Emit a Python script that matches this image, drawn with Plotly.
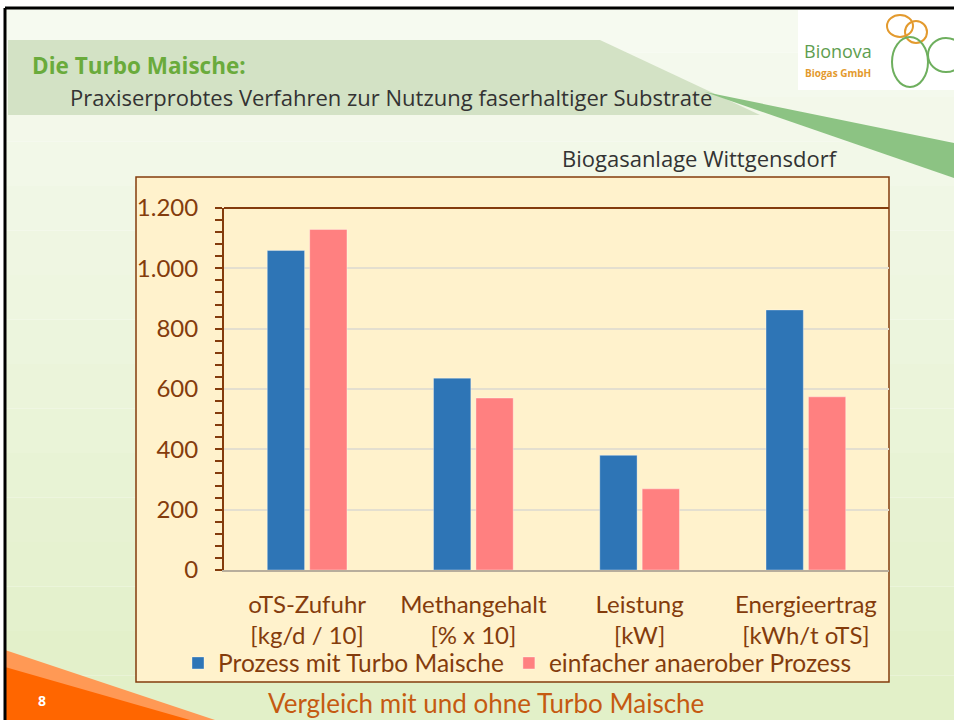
import plotly.graph_objects as go

W, H = 954, 720

categories = ["oTS-Zufuhr<br>[kg/d / 10]", "Methangehalt<br>[% x 10]",
              "Leistung<br>[kW]", "Energieertrag<br>[kWh/t oTS]"]
series_names = ["Prozess mit Turbo Maische", "einfacher anaerober Prozess"]
turbo_values = [1059, 636, 380, 862]
simple_values = [1129, 570, 269, 574]
y_tickvals = [0, 200, 400, 600, 800, 1000, 1200]

BROWN = "#843C0C"
FONT = "Lato"


def px(x):
    return x / W


def py(y):
    return 1 - y / H


fig = go.Figure()
fig.add_trace(go.Bar(x=categories, y=turbo_values, name=series_names[0],
                     marker=dict(color="#2E75B6", line=dict(color="rgba(255,255,255,0.35)", width=1))))
fig.add_trace(go.Bar(x=categories, y=simple_values, name=series_names[1],
                     marker=dict(color="#FF8080", line=dict(color="rgba(255,255,255,0.35)", width=1))))

shapes = []
# background gradient bands
top_c = (246, 250, 240)
bot_c = (226, 240, 200)
n = 16
for i in range(n):
    t = i / (n - 1)
    c = tuple(int(top_c[k] + (bot_c[k] - top_c[k]) * t) for k in range(3))
    y0 = 8 + (H - 8) * i / n
    y1 = 8 + (H - 8) * (i + 1) / n
    shapes.append(dict(type="rect", xref="paper", yref="paper", x0=px(5), x1=1,
                       y0=py(y1), y1=py(y0), fillcolor="rgb(%d,%d,%d)" % c,
                       line=dict(width=0), layer="below"))
# header band
shapes.append(dict(type="path", xref="paper", yref="paper",
                   path="M %f,%f L %f,%f L %f,%f L %f,%f Z" % (px(8), py(40), px(600), py(40), px(760), py(115), px(8), py(115)),
                   fillcolor="#D3E2C5", line=dict(width=0), layer="below"))
# dark green wedge
shapes.append(dict(type="path", xref="paper", yref="paper",
                   path="M %f,%f L %f,%f L %f,%f Z" % (px(705), py(92), px(954), py(143), px(954), py(178)),
                   fillcolor="#8CC383", line=dict(width=0), layer="below"))
# logo white box
shapes.append(dict(type="rect", xref="paper", yref="paper", x0=px(798), x1=1, y0=py(90), y1=py(10),
                   fillcolor="white", line=dict(width=0), layer="below"))
# logo rings
for cx, cy, rx, ry, col in [(900, 26, 13, 11, "#E39A2E"), (916, 32, 11, 11, "#E39A2E"),
                            (910, 62, 18, 25, "#6EAF5E"), (946, 55, 18, 17, "#6EAF5E")]:
    shapes.append(dict(type="circle", xref="paper", yref="paper", x0=px(cx - rx), x1=px(cx + rx),
                       y0=py(cy + ry), y1=py(cy - ry), line=dict(color=col, width=2),
                       fillcolor="rgba(0,0,0,0)", layer="below"))
# orange corner
shapes.append(dict(type="path", xref="paper", yref="paper",
                   path="M %f,%f L %f,%f L %f,%f Z" % (px(5), py(650), px(215), py(720), px(5), py(720)),
                   fillcolor="#FF9955", line=dict(width=0), layer="below"))
shapes.append(dict(type="path", xref="paper", yref="paper",
                   path="M %f,%f L %f,%f L %f,%f Z" % (px(5), py(667), px(190), py(720), px(5), py(720)),
                   fillcolor="#FF6600", line=dict(width=0), layer="below"))
# black slide border
shapes.append(dict(type="line", xref="paper", yref="paper", x0=px(5), x1=1, y0=py(8), y1=py(8),
                   line=dict(color="black", width=3), layer="below"))
shapes.append(dict(type="line", xref="paper", yref="paper", x0=px(5), x1=px(5), y0=0, y1=py(8),
                   line=dict(color="black", width=3), layer="below"))
# chart frame
shapes.append(dict(type="rect", xref="paper", yref="paper", x0=px(136), x1=px(889), y0=py(682), y1=py(177),
                   fillcolor="#FFF2CC", line=dict(color=BROWN, width=1.5), layer="below"))
# plot top border
shapes.append(dict(type="line", xref="x domain", yref="y domain", x0=0, x1=1, y0=1, y1=1,
                   line=dict(color=BROWN, width=2)))

annotations = [
    dict(text="<b>Die Turbo Maische:</b>", x=px(30), y=py(65), xref="paper", yref="paper",
         xanchor="left", yanchor="middle", showarrow=False,
         font=dict(family="Open Sans", size=22.5, color="#6AAB3C")),
    dict(text="Praxiserprobtes Verfahren zur Nutzung faserhaltiger Substrate", x=px(68), y=py(97),
         xref="paper", yref="paper", xanchor="left", yanchor="middle", showarrow=False,
         font=dict(family="Open Sans", size=22, color="#333333")),
    dict(text="Biogasanlage Wittgensdorf", x=px(840), y=py(158), xref="paper", yref="paper",
         xanchor="right", yanchor="middle", showarrow=False,
         font=dict(family="Open Sans", size=22, color="#333333")),
    dict(text="Vergleich mit und ohne Turbo Maische", x=px(486), y=py(703), xref="paper", yref="paper",
         xanchor="center", yanchor="middle", showarrow=False,
         font=dict(family=FONT, size=26, color="#C55A11")),
    dict(text="<b>8</b>", x=px(42), y=py(700), xref="paper", yref="paper",
         xanchor="center", yanchor="middle", showarrow=False,
         font=dict(family="Open Sans", size=14, color="white")),
    dict(text="Bionova", x=px(838), y=py(51), xref="paper", yref="paper",
         xanchor="center", yanchor="middle", showarrow=False,
         font=dict(family="Open Sans", size=18, color="#5E9E50")),
    dict(text="<b>Biogas GmbH</b>", x=px(838), y=py(73), xref="paper", yref="paper",
         xanchor="center", yanchor="middle", showarrow=False,
         font=dict(family="Open Sans", size=10, color="#E39A2E")),
]

fig.update_layout(
    width=W, height=H,
    margin=dict(l=0, r=0, t=0, b=0, autoexpand=False),
    paper_bgcolor="white",
    plot_bgcolor="rgba(0,0,0,0)",
    separators=",.",
    barmode="group",
    bargap=0.49,
    bargroupgap=0.12,
    shapes=shapes,
    annotations=annotations,
    showlegend=True,
    legend=dict(orientation="h", x=px(178), y=py(663), xanchor="left", yanchor="middle",
                font=dict(family=FONT, size=24.5, color=BROWN), bgcolor="rgba(0,0,0,0)",
                itemclick=False, tracegroupgap=0),
    xaxis=dict(domain=[px(224), px(889)], showline=True, linecolor="#B8AE9C", linewidth=2,
               ticks="", ticklabelstandoff=12, automargin=False,
               tickfont=dict(family=FONT, size=24, color=BROWN), showgrid=False),
    yaxis=dict(domain=[py(570), py(208)], range=[0, 1200], tickvals=y_tickvals,
               separatethousands=True, tickformat=",d", automargin=False,
               showline=True, linecolor=BROWN, linewidth=2,
               ticks="outside", ticklen=7, tickwidth=2, tickcolor=BROWN,
               ticklabelstandoff=12,
               minor=dict(dtick=40, ticks="outside", ticklen=7, tickwidth=2, tickcolor=BROWN, showgrid=False),
               showgrid=True, gridcolor="#E4DFCF", gridwidth=1.5, zeroline=False,
               tickfont=dict(family=FONT, size=24, color=BROWN)),
)

fig.write_html("out.html", config={"displayModeBar": False},
               post_script="document.body.style.margin='0px';document.body.style.overflow='hidden';")
